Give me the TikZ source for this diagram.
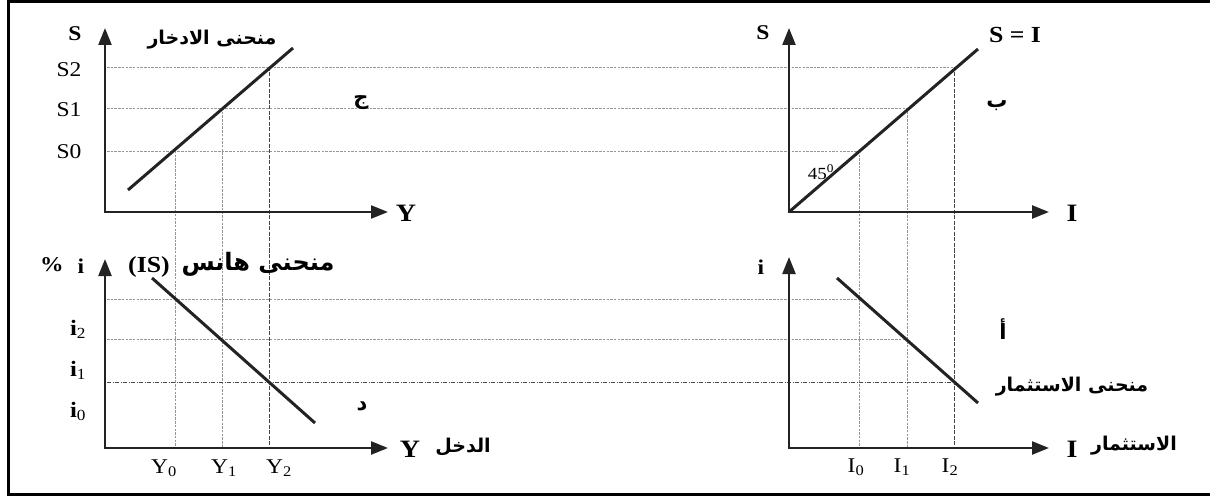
\documentclass[tikz,border=0pt]{standalone}
\usepackage{fontspec}
\setmainfont{Liberation Serif}[FakeStretch=1.12]
\newfontfamily\arabicfont[Script=Arabic]{DejaVu Sans}
\TeXXeTstate=1
\usetikzlibrary{arrows.meta}
\definecolor{ink}{RGB}{35,35,35}
\definecolor{gridc}{RGB}{150,150,150}
\definecolor{gridd}{RGB}{70,70,70}
\begin{document}
\begin{tikzpicture}[x=1pt,y=-1pt,
  axisline/.style={draw=ink,line width=2.4pt,{Triangle[length=17pt,width=13pt]}-{Triangle[length=17pt,width=13pt]}},
  curve/.style={draw=ink,line width=3pt},
  gridline/.style={draw=gridc,line width=0.7pt,dash pattern=on 2.5pt off 1.2pt},
  gridmid/.style={draw=gridd,line width=0.7pt,dash pattern=on 4pt off 1.5pt},
  griddark/.style={draw=gridd,line width=0.9pt,dash pattern=on 4pt off 1.5pt on 1pt off 1.5pt},
  lab/.style={inner sep=0pt,text=black},
  big/.style={lab,font=\bfseries\fontsize{21}{23}\selectfont},
  axl/.style={lab,font=\bfseries\fontsize{25}{27}\selectfont},
  tick/.style={lab,font=\fontsize{21}{23}\selectfont,anchor=base},
  itick/.style={lab,font=\fontsize{22}{24}\selectfont,anchor=base},
  ar/.style={lab,font=\arabicfont\bfseries\fontsize{19}{22}\selectfont},
  arone/.style={lab,font=\arabicfont\bfseries\fontsize{21}{24}\selectfont},
  arbig/.style={lab,font=\arabicfont\bfseries\fontsize{24}{28}\selectfont}
]
\useasboundingbox (0,0) rectangle (1210,497);
% frame
\draw[black,line width=3.2pt] (1212,1.5) -- (8.5,1.5) -- (8.5,494.5) -- (1212,494.5);

% coordinates
\coordinate (A1t) at (105,28);  \coordinate (A1r) at (388,212);
\coordinate (A2t) at (105,259); \coordinate (A2r) at (388,448);
\coordinate (A3t) at (789,28);  \coordinate (A3r) at (1049,212);
\coordinate (A4t) at (789,257); \coordinate (A4r) at (1049,448);
\coordinate (O3) at (789,212);

\coordinate (s1) at (128,190);  \coordinate (s2) at (293,48);
\coordinate (is1) at (152,278); \coordinate (is2) at (315,423);
\coordinate (f2) at (978,49);
\coordinate (v1) at (837,278);  \coordinate (v2) at (978,403);

\coordinate (hS2) at (107,67);  \coordinate (pS2) at (954,67);
\coordinate (hS1) at (107,108); \coordinate (pS1) at (907,108);
\coordinate (hS0) at (107,151); \coordinate (pS0) at (859,151);
\coordinate (qY0) at (175,151); \coordinate (bY0) at (175,447);
\coordinate (qY1) at (222,108); \coordinate (bY1) at (222,447);
\coordinate (qY2) at (269,67);  \coordinate (bY2) at (269,447);
\coordinate (bI0) at (859,447);
\coordinate (bI1) at (907,447);
\coordinate (bI2) at (954,447);
\coordinate (hia) at (107,299); \coordinate (pia) at (859,299);
\coordinate (hib) at (107,339); \coordinate (pib) at (907,339);
\coordinate (hic) at (107,382); \coordinate (pic) at (954,382);

% grid lines
\draw[gridline] (hS2) -- (pS2);
\draw[gridline] (hS1) -- (pS1);
\draw[gridline] (hS0) -- (pS0);
\draw[gridline] (qY0) -- (bY0);
\draw[gridline] (qY1) -- (bY1);
\draw[gridmid] (qY2) -- (bY2);
\draw[gridline] (pS0) -- (bI0);
\draw[gridline] (pS1) -- (bI1);
\draw[gridmid] (pS2) -- (bI2);
\draw[gridline] (hia) -- (pia);
\draw[gridline] (hib) -- (pib);
\draw[griddark] (hic) -- (pic);

% axes
\draw[axisline] (A1t) |- (A1r);
\draw[axisline] (A2t) |- (A2r);
\draw[axisline] (A3t) |- (A3r);
\draw[axisline] (A4t) |- (A4r);

% curves
\draw[curve] (s1) -- (s2);
\draw[curve] (is1) -- (is2);
\draw[curve] (O3) -- (f2);
\draw[curve] (v1) -- (v2);

% labels top-left
\node[big] (lS1) at (75,34) {S};
\node[tick] (lS2) at (69,77) {S2};
\node[tick] (lS1b) at (69,117) {S1};
\node[tick] (lS0) at (69,159) {S0};
\node[axl] (lY1) at (406,213) {Y};
\node[ar] (tsav) at (212,40) {\beginR منحنى الادخار\endR};
\node[arone] (tj) at (361,103) {\beginR ج\endR};

% labels bottom-left
\node[big] (lpc) at (52,265) {\%};
\node[big] (li1) at (81,266) {i};
\node[big,font=\bfseries\fontsize{23}{25}\selectfont] (lIS) at (149,267) {(IS)};
\node[arbig] (this) at (258,264) {\beginR منحنى هانس\endR};
\node[itick] (li2) at (78,335) {\textbf{i}\textsubscript{2}};
\node[itick] (li1b) at (78,376) {\textbf{i}\textsubscript{1}};
\node[itick] (li0) at (78,417) {\textbf{i}\textsubscript{0}};
\node[tick] (lY0) at (164,473) {Y\textsubscript{0}};
\node[tick] (lY1b) at (224,473) {Y\textsubscript{1}};
\node[tick] (lY2) at (279,473) {Y\textsubscript{2}};
\node[axl] (lY2ax) at (410,449) {Y};
\node[ar] (tinc) at (463,447) {\beginR الدخل\endR};
\node[arone] (td) at (362,406) {\beginR د\endR};

% labels top-right
\node[big] (lS3) at (763,33) {S};
\node[big,font=\bfseries\fontsize{23}{25}\selectfont] (lSI) at (1015,35) {S = I};
\node[axl] (lI3) at (1072,213) {I};
\node[lab,font=\fontsize{17}{19}\selectfont] (l45) at (821,172) {45\textsuperscript{0}};
\node[arone] (tb) at (997,106) {\beginR ب\endR};

% labels bottom-right
\node[big] (li4) at (761,267) {i};
\node[arone] (ta) at (1003,329) {\beginR أ\endR};
\node[ar] (tinv) at (1072,387) {\beginR منحنى الاستثمار\endR};
\node[axl] (lI4) at (1072,449) {I};
\node[ar] (tinv2) at (1134,446) {\beginR الاستثمار\endR};
\node[tick] (lI0) at (856,472) {I\textsubscript{0}};
\node[tick] (lI1) at (902,472) {I\textsubscript{1}};
\node[tick] (lI2) at (950,472) {I\textsubscript{2}};
\end{tikzpicture}
\end{document}
